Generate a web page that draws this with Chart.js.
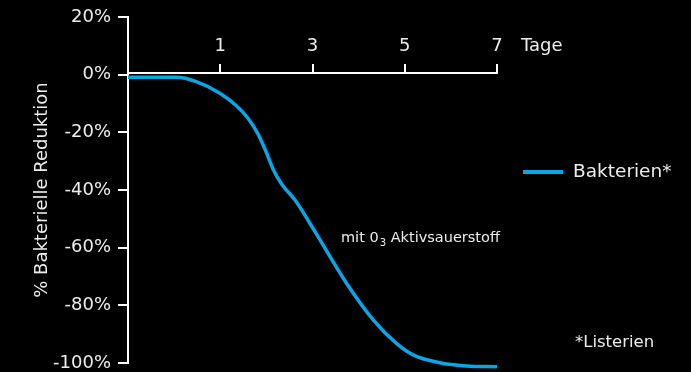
<!DOCTYPE html>
<html>
<head>
<meta charset="utf-8">
<script src="https://cdn.jsdelivr.net/npm/chart.js@4"></script>
<style>
  html, body { margin: 0; padding: 0; background: #000; }
  #wrap { width: 691px; height: 372px; }
</style>
</head>
<body>
<div id="wrap"><canvas id="chart"></canvas></div>
<script>
// values
const dayValues = [-1, 0.05, 0.48, 1.0, 1.35, 1.6, 1.82, 2.0, 2.14, 2.33, 2.62, 2.9, 3.12, 3.74, 4.32, 4.82, 5.18, 5.76, 6.34, 7.0];
const reductionValues = [-0.9, -0.9, -2.4, -6.5, -10.8, -15.1, -20.6, -27.0, -32.6, -37.9, -43.5, -50.4, -56.2, -72.4, -85.1, -93.2, -97.2, -99.9, -101, -101.3];
const dayTicks = [1, 3, 5, 7];
const seriesLabel = "Bakterien*";
const yTitle = "% Bakterielle Reduktion";
const xUnit = "Tage";
const footnote = "*Listerien";
const noteParts = ["mit 0", "3", " Aktivsauerstoff"];

const lineColor = "#0aa5e4";
const textColor = "#ececec";
const fontFamily = "'DejaVu Sans', sans-serif";

const points = dayValues.map((d, i) => ({ x: d, y: reductionValues[i] }));

const extraText = {
  id: "extraText",
  afterDraw(chart) {
    const ctx = chart.ctx;
    const ds = chart.data.datasets[0];
    ctx.save();
    ctx.fillStyle = textColor;
    ctx.textBaseline = "middle";
    ctx.textAlign = "left";

    ctx.font = `18px ${fontFamily}`;
    ctx.fillText(xUnit, 521, 46);

    // legend
    ctx.strokeStyle = ds.borderColor;
    ctx.lineWidth = 4;
    ctx.beginPath();
    ctx.moveTo(523, 172);
    ctx.lineTo(563, 172);
    ctx.stroke();
    ctx.font = `18.5px ${fontFamily}`;
    ctx.fillText(ds.label, 573, 172);

    ctx.font = `16.5px ${fontFamily}`;
    ctx.fillText(footnote, 575, 343);

    // note with subscript
    let x = 341;
    const y = 238;
    ctx.font = `14.5px ${fontFamily}`;
    ctx.fillText(noteParts[0], x, y);
    x += ctx.measureText(noteParts[0]).width + 1;
    ctx.font = `10px ${fontFamily}`;
    ctx.fillText(noteParts[1], x, y + 5);
    x += ctx.measureText(noteParts[1]).width;
    ctx.font = `14.5px ${fontFamily}`;
    ctx.fillText(noteParts[2], x, y);
    ctx.restore();
  }
};

new Chart(document.getElementById("chart").getContext("2d"), {
  type: "line",
  data: {
    datasets: [
      {
        label: seriesLabel,
        data: points,
        borderColor: lineColor,
        borderWidth: 3.5,
        pointRadius: 0,
        cubicInterpolationMode: "monotone",
        clip: false,
      },
    ],
  },
  options: {
    responsive: true,
    maintainAspectRatio: false,
    animation: false,
    layout: {
      padding: { top: 17, right: 194, bottom: 9, left: 0 },
    },
    plugins: {
      legend: { display: false },
      tooltip: { enabled: false },
    },
    scales: {
      x: {
        type: "linear",
        min: -1,
        max: 7,
        position: { y: 0.7 },
        afterBuildTicks: (scale) => {
          scale.ticks = dayTicks.map((v) => ({ value: v }));
        },
        ticks: {
          color: textColor,
          padding: -27,
          font: { family: fontFamily, size: 18 },
          callback: (v) => String(v),
        },
        grid: {
          drawOnChartArea: false,
          color: "#ffffff",
          lineWidth: 2,
          tickLength: -10,
        },
        border: { color: "#ffffff", width: 2 },
      },
      y: {
        min: -100,
        max: 20,
        afterFit: (scale) => {
          scale.width = 128;
          scale.paddingTop = 0;
          scale.paddingBottom = 0;
        },
        ticks: {
          stepSize: 20,
          color: textColor,
          padding: 7,
          font: { family: fontFamily, size: 18 },
          callback: (v) => v + "%",
        },
        grid: {
          drawOnChartArea: false,
          color: "#ffffff",
          lineWidth: 2,
          tickLength: 10,
        },
        border: { color: "#ffffff", width: 2 },
        title: {
          display: true,
          text: yTitle,
          color: textColor,
          font: { family: fontFamily, size: 18 },
          padding: { top: 32, bottom: 0 },
        },
      },
    },
  },
  plugins: [extraText],
});
</script>
</body>
</html>
